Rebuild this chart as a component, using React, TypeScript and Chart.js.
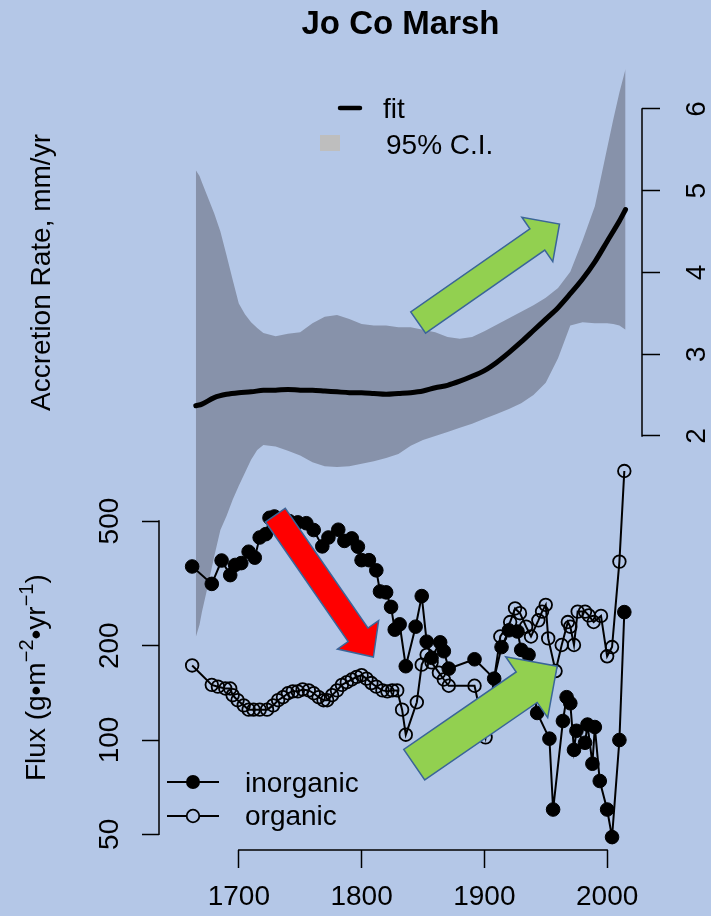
import React, { useEffect, useRef } from 'react';
import { Chart, registerables } from 'chart.js';

Chart.register(...registerables);

const W = 711;
const H = 916;
const FONT = '"Liberation Sans", Arial, Helvetica, sans-serif';
const BG = '#b4c7e7';
const BAND = '#8792aa';

// ---- axis ticks ----
const xTicks = [1700, 1800, 1900, 2000];
const fluxTicks = [50, 100, 200, 500];
const rateTicks = [2, 3, 4, 5, 6];

// ---- accretion-rate fit and 95% C.I. ----
const bandYears = [1665, 1668, 1670, 1675, 1680, 1685, 1690, 1695, 1700, 1705, 1710, 1715, 1720, 1730, 1740, 1750, 1760, 1770, 1780, 1790, 1800, 1810, 1820, 1830, 1840, 1850, 1860, 1870, 1880, 1890, 1900, 1910, 1920, 1930, 1940, 1950, 1960, 1970, 1980, 1990, 2000, 2005, 2010, 2015];
const ciUpper = [5.25, 5.18, 5.10, 4.91, 4.72, 4.50, 4.21, 3.91, 3.62, 3.49, 3.39, 3.32, 3.26, 3.22, 3.25, 3.27, 3.38, 3.46, 3.48, 3.43, 3.37, 3.35, 3.35, 3.33, 3.33, 3.30, 3.27, 3.21, 3.19, 3.21, 3.28, 3.36, 3.44, 3.52, 3.60, 3.69, 3.81, 4.01, 4.39, 4.81, 5.52, 5.87, 6.20, 6.49];
const ciLower = [-0.46, -0.31, -0.15, 0.18, 0.53, 0.85, 1.02, 1.22, 1.39, 1.55, 1.71, 1.83, 1.89, 1.87, 1.82, 1.76, 1.68, 1.63, 1.62, 1.63, 1.66, 1.69, 1.73, 1.78, 1.88, 1.95, 2.00, 2.05, 2.10, 2.15, 2.21, 2.27, 2.33, 2.40, 2.50, 2.65, 2.95, 3.35, 3.39, 3.38, 3.38, 3.37, 3.35, 3.30];

const fitYears = [1665, 1670, 1680, 1690, 1700, 1710, 1720, 1730, 1740, 1750, 1760, 1770, 1780, 1790, 1800, 1810, 1820, 1830, 1840, 1850, 1860, 1870, 1880, 1890, 1900, 1910, 1920, 1930, 1940, 1950, 1960, 1970, 1980, 1990, 2000, 2010, 2015];
const fitRate = [2.37, 2.39, 2.47, 2.51, 2.53, 2.54, 2.56, 2.56, 2.57, 2.56, 2.56, 2.55, 2.54, 2.53, 2.53, 2.52, 2.51, 2.52, 2.53, 2.55, 2.59, 2.62, 2.67, 2.73, 2.80, 2.90, 3.02, 3.15, 3.29, 3.43, 3.57, 3.74, 3.92, 4.13, 4.38, 4.63, 4.77];

// ---- flux series ----
const inorgYears = [1662, 1678, 1686, 1693, 1697, 1702, 1708, 1713, 1717, 1722, 1725, 1729, 1735, 1741, 1748, 1755, 1761, 1768, 1773, 1781, 1786, 1792, 1797, 1800, 1806, 1812, 1815, 1820, 1824, 1827, 1831, 1836, 1844, 1849, 1853, 1857, 1864, 1867, 1871, 1892, 1908, 1914, 1920, 1927, 1930, 1936, 1943, 1953, 1956, 1964, 1967, 1970, 1973, 1975, 1982, 1984, 1988, 1990, 1994, 2000, 2004, 2010, 2014];
const inorgFlux = [358, 315, 374, 336, 362, 367, 399, 382, 443, 454, 512, 517, 505, 500, 495, 492, 468, 415, 443, 469, 432, 440, 414, 375, 375, 348, 298, 296, 266, 225, 234, 172, 230, 288, 206, 183, 205, 192, 169, 181, 157, 198, 224, 222, 194, 187, 122, 101, 60, 115, 137, 131, 93, 107, 98, 112, 84, 110, 74, 60, 49, 100, 256];

const orgYears = [1662, 1678, 1683, 1689, 1693, 1695, 1699, 1704, 1708, 1712, 1717, 1723, 1728, 1732, 1736, 1740, 1744, 1748, 1752, 1757, 1761, 1765, 1769, 1772, 1776, 1780, 1784, 1788, 1792, 1796, 1800, 1804, 1808, 1812, 1817, 1821, 1825, 1829, 1833, 1836, 1845, 1849, 1853, 1857, 1863, 1867, 1871, 1892, 1901, 1913, 1921, 1925, 1929, 1934, 1938, 1944, 1947, 1950, 1952, 1958, 1963, 1968, 1970, 1973, 1976, 1982, 1985, 1989, 1995, 2000, 2004, 2010, 2014];
const orgFlux = [173, 150, 148, 146, 146, 139, 134, 129, 125, 125, 125, 125, 129, 134, 137, 141, 143, 143, 145, 144, 141, 137, 134, 134, 139, 144, 150, 153, 156, 159, 161, 157, 152, 148, 144, 143, 144, 144, 125, 104, 132, 174, 187, 177, 164, 156, 149, 149, 102, 214, 238, 263, 254, 230, 214, 241, 257, 270, 211, 166, 201, 238, 230, 201, 257, 257, 250, 238, 249, 185, 198, 371, 722];

// ---- annotation arrows (data coordinates) ----
const arrows = [
  { axis: 'yAcc', from: [1846.1, 3.388], to: [1961.2, 4.593], shaft: 26, head: 54, headLen: 27, color: '#92d050' },
  { axis: 'yFlux', from: [1729.8, 522], to: [1809.6, 184], shaft: 24, head: 50, headLen: 27, color: '#ff0000' },
  { axis: 'yFlux', from: [1842.9, 83.4], to: [1959.3, 172], shaft: 37, head: 74, headLen: 37, color: '#92d050' },
];

// scale ranges chosen so that the chart area (159..642 x 60..850) matches the figure
const X_MIN = 1635.0;
const X_MAX = 2028.4;
const FLUX_MIN = 44.56;
const FLUX_MAX = 14806;
const RATE_MIN = -3.064;
const RATE_MAX = 6.599;

const pts = (xs: number[], ys: number[]) => xs.map((x, i) => ({ x, y: ys[i] }));

function drawArrow(ctx: CanvasRenderingContext2D, x1: number, y1: number, x2: number, y2: number, sw: number, hw: number, hl: number, fill: string) {
  const dx = x2 - x1, dy = y2 - y1;
  const L = Math.hypot(dx, dy);
  const ux = dx / L, uy = dy / L;
  const nx = -uy, ny = ux;
  const bx = x2 - ux * hl, by = y2 - uy * hl;
  ctx.beginPath();
  ctx.moveTo(x1 + nx * sw / 2, y1 + ny * sw / 2);
  ctx.lineTo(bx + nx * sw / 2, by + ny * sw / 2);
  ctx.lineTo(bx + nx * hw / 2, by + ny * hw / 2);
  ctx.lineTo(x2, y2);
  ctx.lineTo(bx - nx * hw / 2, by - ny * hw / 2);
  ctx.lineTo(bx - nx * sw / 2, by - ny * sw / 2);
  ctx.lineTo(x1 - nx * sw / 2, y1 - ny * sw / 2);
  ctx.closePath();
  ctx.fillStyle = fill;
  ctx.fill();
  ctx.strokeStyle = '#3a6598';
  ctx.lineWidth = 1.5;
  ctx.lineJoin = 'miter';
  ctx.stroke();
}

const bgPlugin = {
  id: 'bg',
  beforeDraw(chart: any) {
    const ctx = chart.ctx;
    ctx.save();
    ctx.fillStyle = BG;
    ctx.fillRect(0, 0, chart.width, chart.height);
    ctx.restore();
  },
};

const decorPlugin = {
  id: 'decor',
  afterDatasetsDraw(chart: any) {
    const ctx: CanvasRenderingContext2D = chart.ctx;
    const sx = chart.scales.x;
    ctx.save();
    for (const a of arrows) {
      const ys = chart.scales[a.axis];
      drawArrow(ctx, sx.getPixelForValue(a.from[0]), ys.getPixelForValue(a.from[1]), sx.getPixelForValue(a.to[0]), ys.getPixelForValue(a.to[1]), a.shaft, a.head, a.headLen, a.color);
    }
    ctx.restore();
  },
  afterDraw(chart: any) {
    const ctx: CanvasRenderingContext2D = chart.ctx;
    const sx = chart.scales.x, sf = chart.scales.yFlux, sa = chart.scales.yAcc;
    const area = chart.chartArea;
    ctx.save();
    ctx.strokeStyle = '#000';
    ctx.fillStyle = '#000';
    ctx.lineWidth = 1.5;
    // axis lines spanning the tick range (R style)
    ctx.beginPath();
    ctx.moveTo(sx.getPixelForValue(xTicks[0]) - 0.75, area.bottom);
    ctx.lineTo(sx.getPixelForValue(xTicks[xTicks.length - 1]) + 0.75, area.bottom);
    ctx.moveTo(area.left, sf.getPixelForValue(fluxTicks[0]) + 0.75);
    ctx.lineTo(area.left, sf.getPixelForValue(fluxTicks[fluxTicks.length - 1]) - 0.75);
    ctx.moveTo(area.right, sa.getPixelForValue(rateTicks[0]) + 0.75);
    ctx.lineTo(area.right, sa.getPixelForValue(rateTicks[rateTicks.length - 1]) - 0.75);
    ctx.stroke();

    // rotated tick labels on y axes
    ctx.font = `28px ${FONT}`;
    ctx.textAlign = 'center';
    ctx.textBaseline = 'alphabetic';
    for (const v of fluxTicks) {
      ctx.save();
      ctx.translate(area.left - 41, sf.getPixelForValue(v));
      ctx.rotate(-Math.PI / 2);
      ctx.fillText(String(v), 0, 0);
      ctx.restore();
    }
    for (const v of rateTicks) {
      ctx.save();
      ctx.translate(area.right + 63, sa.getPixelForValue(v));
      ctx.rotate(-Math.PI / 2);
      ctx.fillText(String(v), 0, 0);
      ctx.restore();
    }

    // axis titles
    ctx.save();
    ctx.translate(49.5, 272.5);
    ctx.rotate(-Math.PI / 2);
    ctx.textAlign = 'center';
    ctx.fillText('Accretion Rate, mm/yr', 0, 0);
    ctx.restore();

    ctx.save();
    ctx.translate(45, 781);
    ctx.rotate(-Math.PI / 2);
    ctx.textAlign = 'left';
    const parts: [string, boolean][] = [['Flux (g\u2022m', false], ['\u22122', true], ['\u2022yr', false], ['\u22121', true], [')', false]];
    let cx = 0;
    for (const [t, sup] of parts) {
      ctx.font = sup ? `20px ${FONT}` : `28px ${FONT}`;
      ctx.fillText(t, cx, sup ? -12 : 0);
      cx += ctx.measureText(t).width;
    }
    ctx.restore();

    // title
    ctx.font = `bold 33px ${FONT}`;
    ctx.textAlign = 'center';
    ctx.fillText('Jo Co Marsh', (area.left + area.right) / 2, 34);

    // top legend
    ctx.textAlign = 'left';
    ctx.font = `28px ${FONT}`;
    ctx.lineWidth = 4.5;
    ctx.lineCap = 'round';
    ctx.beginPath();
    ctx.moveTo(340, 108);
    ctx.lineTo(360, 108);
    ctx.stroke();
    ctx.lineCap = 'butt';
    ctx.fillText('fit', 383, 118);
    ctx.fillStyle = '#bebebe';
    ctx.fillRect(320, 135, 20, 16);
    ctx.fillStyle = '#000';
    ctx.fillText('95% C.I.', 386, 154);

    // bottom legend
    ctx.lineWidth = 2;
    ctx.beginPath();
    ctx.moveTo(167, 782);
    ctx.lineTo(219, 782);
    ctx.moveTo(167, 816);
    ctx.lineTo(219, 816);
    ctx.stroke();
    ctx.beginPath();
    ctx.arc(193, 782, 7, 0, Math.PI * 2);
    ctx.fill();
    ctx.beginPath();
    ctx.arc(193, 816, 6.3, 0, Math.PI * 2);
    ctx.fillStyle = BG;
    ctx.fill();
    ctx.lineWidth = 1.8;
    ctx.stroke();
    ctx.fillStyle = '#000';
    ctx.fillText('inorganic', 245, 792);
    ctx.fillText('organic', 245, 825);
    ctx.restore();
  },
};

export default function App() {
  const ref = useRef<HTMLCanvasElement>(null);
  useEffect(() => {
    const canvas = ref.current;
    if (!canvas) return;
    const chart = new Chart(canvas, {
      type: 'line',
      data: {
        datasets: [
          {
            label: 'inorganic',
            data: pts(inorgYears, inorgFlux),
            yAxisID: 'yFlux',
            borderColor: '#000',
            borderWidth: 2,
            pointRadius: 6.8,
            pointBackgroundColor: '#000',
            pointBorderColor: '#000',
            pointBorderWidth: 1,
            fill: false,
            tension: 0,
          },
          {
            label: 'organic',
            data: pts(orgYears, orgFlux),
            yAxisID: 'yFlux',
            borderColor: '#000',
            borderWidth: 2,
            pointRadius: 6.3,
            pointBackgroundColor: 'rgba(0,0,0,0)',
            pointBorderColor: '#000',
            pointBorderWidth: 1.8,
            fill: false,
            tension: 0,
          },
          {
            label: 'fit',
            data: pts(fitYears, fitRate),
            yAxisID: 'yAcc',
            borderColor: '#000',
            borderWidth: 5,
            pointRadius: 0,
            fill: false,
            tension: 0.3,
            borderCapStyle: 'round',
          },
          {
            label: 'ciUpper',
            data: pts(bandYears, ciUpper),
            yAxisID: 'yAcc',
            borderWidth: 0,
            borderColor: 'rgba(0,0,0,0)',
            backgroundColor: BAND,
            pointRadius: 0,
            fill: '+1',
            tension: 0,
          },
          {
            label: 'ciLower',
            data: pts(bandYears, ciLower),
            yAxisID: 'yAcc',
            borderWidth: 0,
            borderColor: 'rgba(0,0,0,0)',
            pointRadius: 0,
            fill: false,
            tension: 0,
          },
        ],
      },
      options: {
        responsive: false,
        animation: false,
        devicePixelRatio: 1,
        events: [],
        layout: { padding: { top: 60, left: 0, right: 0, bottom: 0 } },
        plugins: {
          legend: { display: false },
          tooltip: { enabled: false },
          title: { display: false },
        },
        scales: {
          x: {
            type: 'linear',
            position: 'bottom',
            min: X_MIN,
            max: X_MAX,
            afterBuildTicks: (s: any) => { s.ticks = xTicks.map((v) => ({ value: v })); },
            afterFit: (s: any) => { s.height = 66; },
            grid: { display: true, drawOnChartArea: false, drawTicks: true, tickLength: 18, tickColor: '#000', tickWidth: 1.5 },
            border: { display: false },
            ticks: {
              color: '#000',
              font: { family: FONT, size: 28 },
              padding: 12,
              autoSkip: false,
              maxRotation: 0,
              minRotation: 0,
              callback: (v: any) => String(v),
            },
          },
          yFlux: {
            type: 'logarithmic',
            position: 'left',
            min: FLUX_MIN,
            max: FLUX_MAX,
            afterBuildTicks: (s: any) => { s.ticks = fluxTicks.map((v) => ({ value: v })); },
            afterFit: (s: any) => { s.width = 159; },
            grid: { display: true, drawOnChartArea: false, drawTicks: true, tickLength: 17, tickColor: '#000', tickWidth: 1.5 },
            border: { display: false },
            ticks: { display: false },
          },
          yAcc: {
            type: 'linear',
            position: 'right',
            min: RATE_MIN,
            max: RATE_MAX,
            afterBuildTicks: (s: any) => { s.ticks = rateTicks.map((v) => ({ value: v })); },
            afterFit: (s: any) => { s.width = 69; },
            grid: { display: true, drawOnChartArea: false, drawTicks: true, tickLength: 18, tickColor: '#000', tickWidth: 1.5 },
            border: { display: false },
            ticks: { display: false },
          },
        },
      } as any,
      plugins: [bgPlugin, decorPlugin],
    });
    return () => chart.destroy();
  }, []);
  return (
    <div style={{ position: 'fixed', left: 0, top: 0, width: W, height: H, background: BG, overflow: 'hidden' }}>
      <canvas ref={ref} width={W} height={H} style={{ display: 'block', width: W, height: H }} />
    </div>
  );
}
